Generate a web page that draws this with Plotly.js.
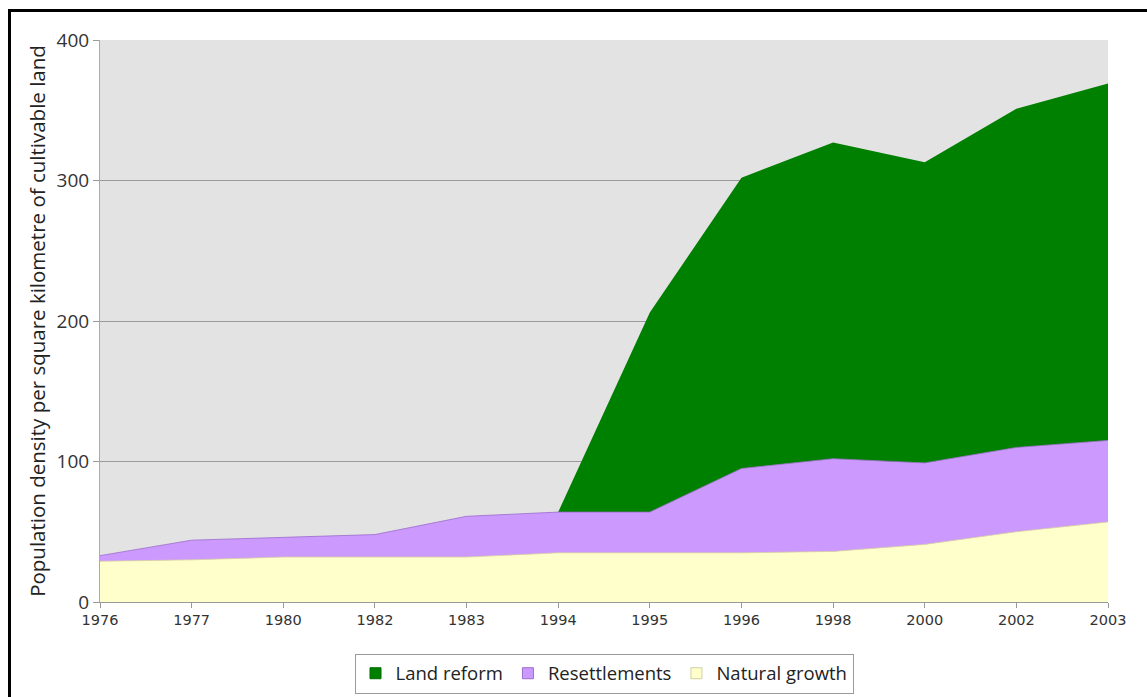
<!DOCTYPE html>
<html>
<head>
<meta charset="utf-8">
<script src="https://cdn.plot.ly/plotly-3.0.1.min.js"></script>
<style>
html,body{margin:0;padding:0;background:#fff;overflow:hidden;}
#frame{position:absolute;left:8px;top:9px;width:1136px;height:700px;border:3px solid #000;pointer-events:none;z-index:5;}
#chart{position:absolute;left:0;top:0;width:1147px;height:697px;}
</style>
</head>
<body>
<div id="chart"></div>
<div id="frame"></div>
<script>
const years = ['1976','1977','1980','1982','1983','1994','1995','1996','1998','2000','2002','2003'];
const naturalGrowth = [29, 30, 32, 32, 32, 35, 35, 35, 36, 41, 50, 57];
const resettlements = [4, 14, 14, 16, 29, 29, 29, 60, 66, 58, 60, 58];
const landReform = [0, 0, 0, 0, 0, 0, 142, 207, 225, 214, 241, 254];

const seriesNames = ['Natural growth', 'Resettlements', 'Land reform'];
const fillColors = ['#ffffcc', '#cc99ff', '#008000'];
const edgeColors = ['#d8d0a0', '#9a6ccc', '#006a00'];
const seriesValues = [naturalGrowth, resettlements, landReform];

const traces = [];
seriesValues.forEach((vals, i) => {
  traces.push({x: years, y: vals, name: seriesNames[i], type: 'scatter', mode: 'lines', stackgroup: 'one',
    fillcolor: fillColors[i], line: {color: edgeColors[i], width: i === 2 ? 0 : 0.8}, showlegend: false});
});
// legend-only entries with square swatches
[2, 1, 0].forEach(i => {
  traces.push({x: [null], y: [null], name: seriesNames[i], type: 'scatter', mode: 'markers',
    marker: {symbol: 'square', size: 11, color: fillColors[i], line: {color: i === 0 ? '#d0d0a0' : edgeColors[i], width: 1}},
    showlegend: true});
});

const layout = {
  width: 1147, height: 697,
  margin: {l: 100, r: 39, t: 40, b: 95, autoexpand: false},
  paper_bgcolor: '#ffffff',
  plot_bgcolor: '#e3e3e3',
  showlegend: true,
  legend: {orientation: 'h', x: 0.5, xanchor: 'center', y: -0.092, yanchor: 'top',
           traceorder: 'normal', bordercolor: '#9a9a9a', borderwidth: 1, bgcolor: '#ffffff',
           itemwidth: 30, tracegroupgap: 0,
           font: {family: 'Open Sans', size: 18.5, color: '#222'}},
  xaxis: {type: 'category', range: [0, 11], showgrid: false, ticks: 'outside', ticklen: 5,
          tickcolor: '#999', showline: true, linecolor: '#999', linewidth: 1,
          tickfont: {family: 'DejaVu Sans', size: 14.5, color: '#333'}, zeroline: false},
  yaxis: {range: [0, 400], dtick: 100, showgrid: true, gridcolor: '#9a9a9a', gridwidth: 1,
          ticks: 'outside', ticklen: 6, tickcolor: '#999', showline: true, linecolor: '#aaa',
          zeroline: false, tickfont: {family: 'Open Sans', size: 19, color: '#333'},
          title: {text: 'Population density per square kilometre of cultivable land',
                  font: {family: 'Open Sans', size: 20.5, color: '#222'}, standoff: 5}}
};

Plotly.newPlot('chart', traces, layout, {displayModeBar: false, staticPlot: true});
</script>
</body>
</html>
